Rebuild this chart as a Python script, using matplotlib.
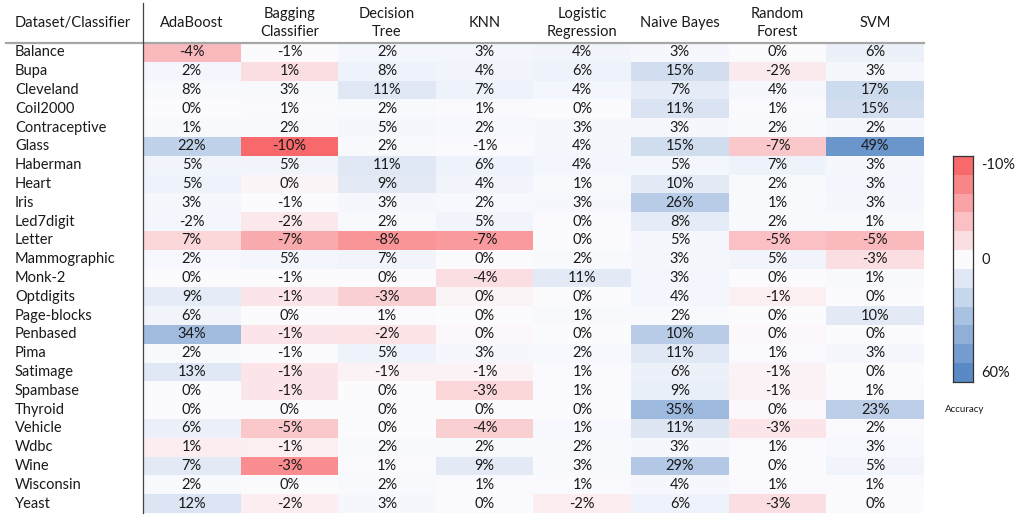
import matplotlib
matplotlib.use('Agg')
import matplotlib.pyplot as plt
import matplotlib.transforms as mtransforms
from matplotlib.colors import LinearSegmentedColormap, TwoSlopeNorm
import numpy as np

plt.rcParams['font.family'] = ['Lato', 'DejaVu Sans']

classifiers = ["AdaBoost", "Bagging\nClassifier", "Decision\nTree", "KNN",
               "Logistic\nRegression", "Naive Bayes", "Random\nForest", "SVM"]
datasets = ["Balance", "Bupa", "Cleveland", "Coil2000", "Contraceptive", "Glass",
            "Haberman", "Heart", "Iris", "Led7digit", "Letter", "Mammographic",
            "Monk-2", "Optdigits", "Page-blocks", "Penbased", "Pima", "Satimage",
            "Spambase", "Thyroid", "Vehicle", "Wdbc", "Wine", "Wisconsin", "Yeast"]

# printed values (%)
values = [
    [-4, -1, 2, 3, 4, 3, 0, 6],
    [2, 1, 8, 4, 6, 15, -2, 3],
    [8, 3, 11, 7, 4, 7, 4, 17],
    [0, 1, 2, 1, 0, 11, 1, 15],
    [1, 2, 5, 2, 3, 3, 2, 2],
    [22, -10, 2, -1, 4, 15, -7, 49],
    [5, 5, 11, 6, 4, 5, 7, 3],
    [5, 0, 9, 4, 1, 10, 2, 3],
    [3, -1, 3, 2, 3, 26, 1, 3],
    [-2, -2, 2, 5, 0, 8, 2, 1],
    [7, -7, -8, -7, 0, 5, -5, -5],
    [2, 5, 7, 0, 2, 3, 5, -3],
    [0, -1, 0, -4, 11, 3, 0, 1],
    [9, -1, -3, 0, 0, 4, -1, 0],
    [6, 0, 1, 0, 1, 2, 0, 10],
    [34, -1, -2, 0, 0, 10, 0, 0],
    [2, -1, 5, 3, 2, 11, 1, 3],
    [13, -1, -1, -1, 1, 6, -1, 0],
    [0, -1, 0, -3, 1, 9, -1, 1],
    [0, 0, 0, 0, 0, 35, 0, 23],
    [6, -5, 0, -4, 1, 11, -3, 2],
    [1, -1, 2, 2, 2, 3, 1, 3],
    [7, -3, 1, 9, 3, 29, 0, 5],
    [2, 0, 2, 1, 1, 4, 1, 1],
    [12, -2, 3, 0, -2, 6, -3, 0],
]

# cell shading (does not always follow the printed value)
shade = [
    [-4.5, 0.3, 3, 3, 4, 2, 0, 6],
    [3, -2, 5, 4, 5, 15, -1.2, 2],
    [1, 1, 10, 5, 3, 8, 2, 17],
    [0, 0.5, 1, 0.5, 0, 13, 0.5, 15],
    [1, 1, 2, 1.5, 2, 2, 1, 2],
    [22, -10, 1, 0.5, 2, 16, -3.5, 53],
    [4, 4, 10, 5, 3, 3, 5, 2],
    [5, -0.4, 9, 4, 1, 9, 1, 3],
    [2, 0.3, 2, 1.5, 2, 25, 1, 2],
    [3, -1.3, 1, 4, 0.5, 8, 1, 1],
    [-2.5, -5.5, -7, -6.5, 0, 2, -4, -4.5],
    [1.5, 3, 4, 0, 1, 2, 4, -2],
    [0, 0, 0, -2, 9, 3, 0, 1],
    [8, -1.5, -3, -0.5, 0, 3, -0.8, 0],
    [4, 0, 0.5, 0, 1, 1, 0, 9],
    [33, -1.5, -1.7, -0.3, 0, 25, -0.3, 0],
    [1, 0, 5, 2, 1.5, 10, 0.5, 2],
    [10, -1.5, -0.7, -0.7, 0.5, 6, -0.7, 0],
    [0, -1.5, 0, -2.5, 0.5, 7, -0.7, 0.5],
    [0, 0, 0, 0, 0, 35, -0.3, 23],
    [6, -3.5, 0, -3, 1.5, 11, -1.5, 0.5],
    [-1, -0.8, 1, 1, 1, 2, 0.5, 1.5],
    [9, -7.5, 0.5, 9, 1, 27, 0, 4],
    [1, 0, 1, 0.5, 0.5, 2, 0.5, 0.5],
    [12, -1, 2, 0, -1, 5, -2, 0],
]

legend_levels = [-10, -8, -6, -4, -2, 0, 10, 20, 30, 40, 50, 60]
legend_labels = {-10: "-10%", 0: "0", 60: "60%"}

W, H = 1017, 518
fig = plt.figure(figsize=(W / 100, H / 100), dpi=100)

cmap = LinearSegmentedColormap.from_list("rwb", ["#F8696B", "#FCFCFF", "#5A8AC6"])
norm = TwoSlopeNorm(vmin=-10, vcenter=0, vmax=60)

left, right, top, bottom = 143, 924, 43, 513
ax = fig.add_axes([left / W, 1 - bottom / H, (right - left) / W, (bottom - top) / H])
ax.imshow(np.array(shade), cmap=cmap, norm=norm, aspect='auto', interpolation='nearest')
ax.set_axis_off()

txt = "#1a1a1a"
for i, row in enumerate(values):
    for j, v in enumerate(row):
        ax.text(j, i, f"{v}%", ha='center', va='center', fontsize=10.5, color=txt)

# row labels and column headers
trans_rows = mtransforms.blended_transform_factory(fig.transFigure, ax.transData)
for i, name in enumerate(datasets):
    ax.text(15 / W, i, name, transform=trans_rows, ha='left', va='center',
            fontsize=10.5, color=txt)

trans_cols = mtransforms.blended_transform_factory(ax.transData, fig.transFigure)
for j, name in enumerate(classifiers):
    ax.text(j, 1 - 23 / H, name, transform=trans_cols, ha='center', va='center',
            fontsize=10.5, color=txt, linespacing=1.3)
fig.text(15 / W, 1 - 23 / H, "Dataset/Classifier", ha='left', va='center',
         fontsize=10.5, color=txt)

# header rule and separator
fig.add_artist(plt.Line2D([6 / W, right / W], [1 - top / H, 1 - top / H],
                          color="#a6a6a6", lw=1.6, transform=fig.transFigure))
fig.add_artist(plt.Line2D([left / W, left / W], [1 - 3 / H, 1 - bottom / H],
                          color="#444444", lw=0.9, transform=fig.transFigure))

# legend scale
cax = fig.add_axes([953 / W, 1 - 382 / H, 20 / W, 226 / H])
cax.imshow(np.array(legend_levels).reshape(-1, 1), cmap=cmap, norm=norm,
           aspect='auto', interpolation='nearest')
cax.set_xticks([])
cax.set_yticks([])
for s in cax.spines.values():
    s.set_color("#333333")
    s.set_linewidth(0.9)
trans_leg = mtransforms.blended_transform_factory(fig.transFigure, cax.transData)
for k, lev in enumerate(legend_levels):
    if lev in legend_labels:
        cax.text(981 / W, k, legend_labels[lev], ha='left', va='center',
                 fontsize=10.5, color=txt, transform=trans_leg, clip_on=False)
fig.text(945 / W, 1 - 410 / H, "Accuracy", ha='left', va='center', fontsize=7,
         color=txt)

fig.savefig("out.png", dpi=100)
